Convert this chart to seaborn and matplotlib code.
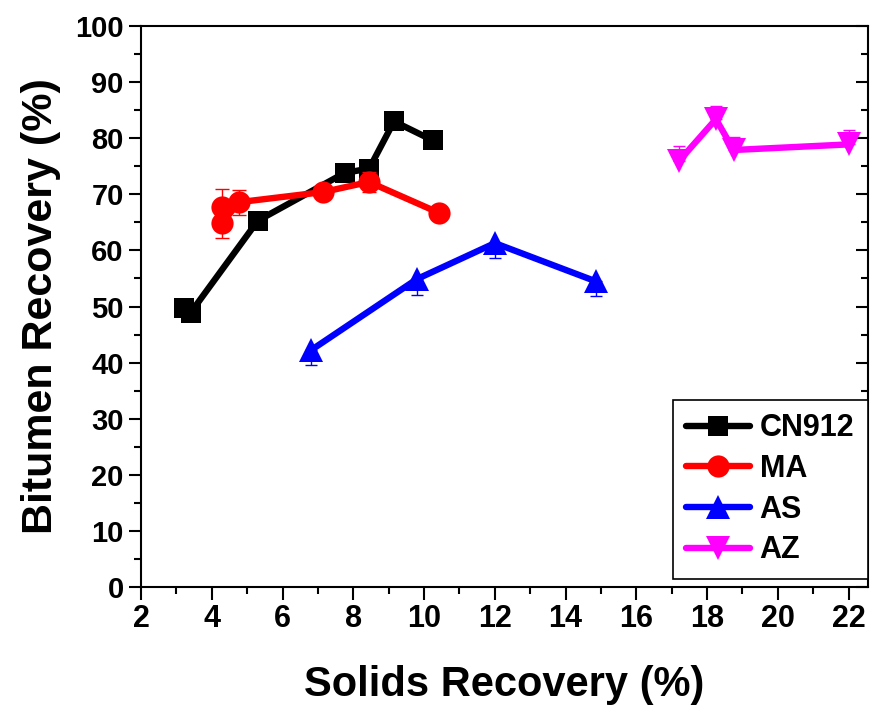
import numpy as np
import pandas as pd
import matplotlib
matplotlib.use("Agg")
import matplotlib.pyplot as plt
from matplotlib.ticker import MultipleLocator
import seaborn as sns

# Solids recovery (%) vs bitumen recovery (%) for each flocculant
cn912_x = [3.2, 3.4, 5.3, 7.75, 8.45, 9.15, 10.25]
cn912_y = [49.7, 48.9, 65.3, 73.8, 74.6, 83.0, 79.6]

ma_x = [4.29, 4.29, 4.77, 7.14, 8.44, 10.42]
ma_y = [67.7, 64.9, 68.6, 70.4, 72.2, 66.7]
ma_err = [3.2, 2.7, 2.2, 0.0, 1.8, 0.0]

as_x = [6.8, 9.8, 12.0, 14.85]
as_y = [42.2, 54.9, 61.3, 54.5]
as_err_low = [2.6, 2.8, 2.7, 2.7]

az_x = [17.2, 18.25, 18.75, 22.0]
az_y = [75.9, 83.4, 77.9, 78.9]
az_err_high = [2.8, 2.3, 2.3, 2.6]

series_names = ["CN912", "MA", "AS", "AZ"]
series_colors = ["#000000", "#ff0000", "#0000ff", "#ff00ff"]
series_markers = ["s", "o", "^", "v"]
series_ms = [15, 16, 17.5, 17.5]

x_ticks = list(range(2, 23, 2))
y_ticks = list(range(0, 101, 10))

frames = []
for name, xs, ys in zip(series_names,
                        [cn912_x, ma_x, as_x, az_x],
                        [cn912_y, ma_y, as_y, az_y]):
    frames.append(pd.DataFrame({"solids": xs, "bitumen": ys, "agent": name}))
df = pd.concat(frames, ignore_index=True)

sns.set_theme(style="ticks")
plt.rcParams["font.family"] = ["Liberation Sans", "DejaVu Sans"]
plt.rcParams["font.weight"] = "bold"
for key in ["text.color", "axes.labelcolor", "xtick.color", "ytick.color",
            "axes.edgecolor"]:
    plt.rcParams[key] = "black"

fig = plt.figure(figsize=(8.71, 7.11), dpi=100)
ax = fig.add_axes([0.162, 0.1744, 0.8346, 0.789])

for name, col, mk, ms in zip(series_names, series_colors, series_markers, series_ms):
    sub = df[df["agent"] == name]
    sns.lineplot(data=sub, x="solids", y="bitumen", ax=ax, sort=False,
                 estimator=None, color=col, lw=4.6, marker=mk, markersize=ms,
                 markeredgewidth=0, label=name)

# error bars
ax.errorbar(ma_x, ma_y, yerr=ma_err, fmt="none", ecolor="#ff0000",
            elinewidth=1.0, capsize=5, capthick=1.0)
ax.errorbar(as_x, as_y, yerr=[as_err_low, [0] * len(as_x)], fmt="none",
            ecolor="#0000ff", elinewidth=1.0, capsize=4, capthick=1.0)
ax.errorbar(az_x, az_y, yerr=[[0] * len(az_x), az_err_high], fmt="none",
            ecolor="#ff00ff", elinewidth=1.0, capsize=4, capthick=1.0)

ax.set_xlim(2, 22.55)
ax.set_ylim(0, 100)
ax.set_xticks(x_ticks)
ax.set_yticks(y_ticks)
ax.xaxis.set_minor_locator(MultipleLocator(1))
ax.yaxis.set_minor_locator(MultipleLocator(5))

for s in ax.spines.values():
    s.set_visible(True)
    s.set_linewidth(1.5)
    s.set_color("black")

ax.tick_params(axis="both", which="major", direction="out", length=9, width=1.5,
               color="black", labelcolor="black")
ax.tick_params(axis="both", which="minor", direction="out", length=5, width=1.5,
               color="black")
ax.tick_params(axis="y", which="both", right=True, labelright=False)
ax.tick_params(axis="x", which="both", top=False)
# inward ticks on the right side
for t in ax.yaxis.get_major_ticks() + ax.yaxis.get_minor_ticks():
    t.tick2line.set_marker(matplotlib.lines.TICKLEFT)

for lab in ax.get_xticklabels():
    lab.set_fontsize(22)
    lab.set_fontweight("bold")
for lab in ax.get_yticklabels():
    lab.set_fontsize(21)
    lab.set_fontweight("bold")

ax.set_xlabel("Solids Recovery (%)", fontsize=30, fontweight="bold",
              color="black", labelpad=22)
ax.set_ylabel("Bitumen Recovery (%)", fontsize=31, fontweight="bold",
              color="black", labelpad=10)

leg = ax.legend(loc="lower right", bbox_to_anchor=(1.0, 0.014), borderaxespad=0,
                frameon=True, fancybox=False, edgecolor="black", framealpha=1,
                prop={"size": 22, "weight": "bold"}, handlelength=2.1,
                handletextpad=0.3, labelspacing=0.35, borderpad=0.45,
                labelcolor="black")
leg.get_frame().set_linewidth(1.2)
for h in leg.get_lines():
    h.set_solid_capstyle("round")

fig.savefig("out.png", dpi=100, facecolor="white")
